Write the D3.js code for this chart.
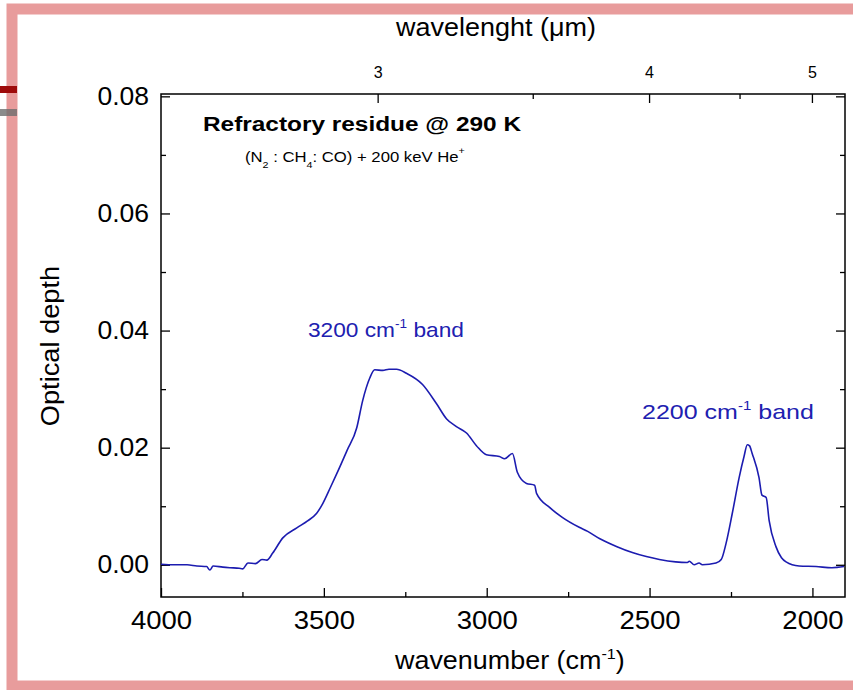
<!DOCTYPE html>
<html>
<head>
<meta charset="utf-8">
<script src="https://cdn.jsdelivr.net/npm/d3@7"></script>
<style>
  body { margin: 0; background: #fff; }
  text { font-family: "Liberation Sans", Arial, sans-serif; }
</style>
</head>
<body>
<svg id="chart" width="853" height="690"></svg>
<script>
// spectrum: wavenumber (cm-1) and optical depth
var wavenumber = [4000, 3960, 3920, 3890, 3860, 3850, 3840, 3810, 3788, 3760, 3749, 3733, 3710, 3690, 3675, 3657,
  3626, 3583, 3550, 3522, 3503, 3480, 3460, 3429, 3399, 3381, 3359, 3344, 3319, 3300, 3277, 3246, 3197, 3154,
  3123, 3093, 3062, 3031, 3001, 2961, 2945, 2921, 2906, 2878, 2853, 2847, 2807, 2768, 2716, 2690, 2654,
  2600, 2553, 2510, 2470, 2420, 2384, 2378, 2363, 2348, 2338, 2296, 2280, 2265, 2246, 2225, 2210, 2200,
  2193, 2185, 2164, 2155, 2142, 2133, 2112, 2095, 2081, 2041, 1989, 1940, 1903];
var opticalDepth = [0.0001, 0.0000, 0.0000, -0.0002, -0.0003, -0.0009, -0.0002, -0.0004, -0.0005, -0.0006, -0.0007, 0.0003, 0.0002, 0.0009, 0.0008, 0.0020,
  0.0046, 0.0063, 0.0075, 0.0088, 0.0105, 0.0132, 0.0156, 0.0195, 0.0234, 0.0280, 0.0319, 0.0333, 0.0332, 0.0334, 0.0334, 0.0327, 0.0308, 0.0275,
  0.0249, 0.0236, 0.0225, 0.0203, 0.0188, 0.0185, 0.0181, 0.0190, 0.0158, 0.0139, 0.0136, 0.0122, 0.0098, 0.0081, 0.0064, 0.0057, 0.0045,
  0.0031, 0.0021, 0.0014, 0.0009, 0.0005, 0.0004, 0.0006, 0.0000, 0.0003, 0.0000, 0.0003, 0.0009, 0.0037, 0.0088, 0.0149, 0.0185, 0.0205,
  0.0203, 0.0190, 0.0149, 0.0119, 0.0115, 0.0076, 0.0031, 0.0012, 0.0005, -0.0002, -0.0003, -0.0005, -0.0003];

var bottomTicks = [4000, 3500, 3000, 2500, 2000];
var bottomMinor = [3750, 3250, 2750, 2250];
var leftTicks = [0.00, 0.02, 0.04, 0.06, 0.08];
var leftMinor = [0.01, 0.03, 0.05, 0.07];
var topTicks = [3, 4, 5];          // wavelength, um
var topMinor = [3.5, 4.5];

var svg = d3.select("#chart"),
    width = +svg.attr("width"),
    height = +svg.attr("height");

var margin = {left: 161, right: 845, top: 94, bottom: 597};

var x = d3.scaleLinear().domain([4000, 1900]).range([margin.left, margin.right]);
var y = d3.scaleLinear().domain([-0.0055, 0.0804]).range([margin.bottom, margin.top]);

// the original picture is a bit stretched sideways, so text gets widened to fit
function fitWidth(t, w) {
  var b = t.node().getBBox();
  var s = w / b.width;
  var ax = +t.attr("x");
  t.attr("transform", "translate(" + ax + ",0) scale(" + s + ",1) translate(" + (-ax) + ",0)");
}

// pink page frame and little side marks
svg.append("rect")
    .attr("x", 12).attr("y", 9)
    .attr("width", 900).attr("height", 677)
    .attr("fill", "none")
    .attr("stroke", "#e89c9c")
    .attr("stroke-width", 11);
svg.append("rect").attr("x", 0).attr("y", 86).attr("width", 17).attr("height", 7).attr("fill", "#9e0a0a");
svg.append("rect").attr("x", 0).attr("y", 109).attr("width", 17).attr("height", 7).attr("fill", "#6e6e6e").attr("opacity", 0.8);

// axes, ticks inward
var tickStyle = function(g) {
  g.select(".domain").remove();
  g.selectAll(".tick line").attr("stroke", "#000").attr("stroke-width", 1.3);
  g.selectAll(".tick text").attr("fill", "#000");
};

svg.append("g")
    .attr("transform", "translate(0," + margin.bottom + ")")
    .call(d3.axisBottom(x).tickValues(bottomTicks).tickSize(-9).tickPadding(14).tickFormat(d3.format("d")))
    .call(tickStyle)
    .selectAll("text").attr("font-size", 25).attr("transform", "scale(1.1,1)");
svg.append("g")
    .attr("transform", "translate(0," + margin.bottom + ")")
    .call(d3.axisBottom(x).tickValues(bottomMinor).tickSize(-5).tickFormat(""))
    .call(tickStyle);

svg.append("g")
    .attr("transform", "translate(" + margin.left + ",0)")
    .call(d3.axisLeft(y).tickValues(leftTicks).tickSize(-9).tickPadding(12).tickFormat(d3.format(".2f")))
    .call(tickStyle)
    .selectAll("text").attr("font-size", 25).attr("transform", "translate(-12,0) scale(1.06,1) translate(12,0)");
svg.append("g")
    .attr("transform", "translate(" + margin.left + ",0)")
    .call(d3.axisLeft(y).tickValues(leftMinor).tickSize(-5).tickFormat(""))
    .call(tickStyle);

svg.append("g")
    .attr("transform", "translate(" + margin.right + ",0)")
    .call(d3.axisRight(y).tickValues(leftTicks).tickSize(-9).tickFormat(""))
    .call(tickStyle);
svg.append("g")
    .attr("transform", "translate(" + margin.right + ",0)")
    .call(d3.axisRight(y).tickValues(leftMinor).tickSize(-5).tickFormat(""))
    .call(tickStyle);

// top axis in wavelength: position = 10000 / um
var xTop = function(um) { return x(10000 / um); };
var topAxis = svg.append("g").attr("transform", "translate(0," + margin.top + ")");
topAxis.selectAll(".major").data(topTicks).enter().append("line")
    .attr("x1", xTop).attr("x2", xTop).attr("y1", 0).attr("y2", 9)
    .attr("stroke", "#000").attr("stroke-width", 1.3);
topAxis.selectAll(".minor").data(topMinor).enter().append("line")
    .attr("x1", xTop).attr("x2", xTop).attr("y1", 0).attr("y2", 5)
    .attr("stroke", "#000").attr("stroke-width", 1.3);
topAxis.selectAll("text").data(topTicks).enter().append("text")
    .attr("x", xTop).attr("y", -16)
    .attr("text-anchor", "middle")
    .attr("font-size", 16)
    .text(function(d) { return d; });

// frame
svg.append("rect")
    .attr("x", margin.left).attr("y", margin.top)
    .attr("width", margin.right - margin.left).attr("height", margin.bottom - margin.top)
    .attr("fill", "none").attr("stroke", "#000").attr("stroke-width", 1.5);

// spectrum
var points = wavenumber.map(function(d, i) { return [d, opticalDepth[i]]; });
svg.append("path")
    .datum(points)
    .attr("fill", "none")
    .attr("stroke", "#1c1cb0")
    .attr("stroke-width", 1.6)
    .attr("d", d3.line().curve(d3.curveMonotoneX).x(function(d) { return x(d[0]); }).y(function(d) { return y(d[1]); }));

// axis titles
var xt = svg.append("text").attr("x", 395).attr("y", 669).attr("font-size", 25);
xt.append("tspan").text("wavenumber (cm");
xt.append("tspan").attr("dy", -10).attr("font-size", 15).text("-1");
xt.append("tspan").attr("dy", 10).text(")");
fitWidth(xt, 231);

var wt = svg.append("text").attr("x", 396).attr("y", 36).attr("font-size", 25)
    .text("wavelenght (\u03bcm)");
fitWidth(wt, 201);

svg.append("text")
    .attr("transform", "translate(59,346) rotate(-90) scale(1.09,1)")
    .attr("text-anchor", "middle").attr("font-size", 25)
    .text("Optical depth");

// labels inside the plot
var title = svg.append("text").attr("x", 203).attr("y", 131).attr("font-size", 20).attr("font-weight", "bold")
    .text("Refractory residue @ 290 K");
fitWidth(title, 319);

var sub = svg.append("text").attr("x", 245).attr("y", 162).attr("font-size", 14);
sub.append("tspan").text("(N");
sub.append("tspan").attr("dy", 6).attr("font-size", 9).text("2");
sub.append("tspan").attr("dy", -6).text(" : CH");
sub.append("tspan").attr("dy", 6).attr("font-size", 9).text("4");
sub.append("tspan").attr("dy", -6).text(": CO) + 200 keV He");
sub.append("tspan").attr("dy", -8).attr("font-size", 9).text("+");
fitWidth(sub, 220);

var bandLabel = function(px, py, txt, w) {
  var t = svg.append("text").attr("x", px).attr("y", py).attr("font-size", 20).attr("fill", "#2020b0");
  t.append("tspan").text(txt + " cm");
  t.append("tspan").attr("dy", -9).attr("font-size", 12).text("-1");
  t.append("tspan").attr("dy", 9).text(" band");
  fitWidth(t, w);
};
bandLabel(308, 337, "3200", 156);
bandLabel(642, 419, "2200", 172);
</script>
</body>
</html>
